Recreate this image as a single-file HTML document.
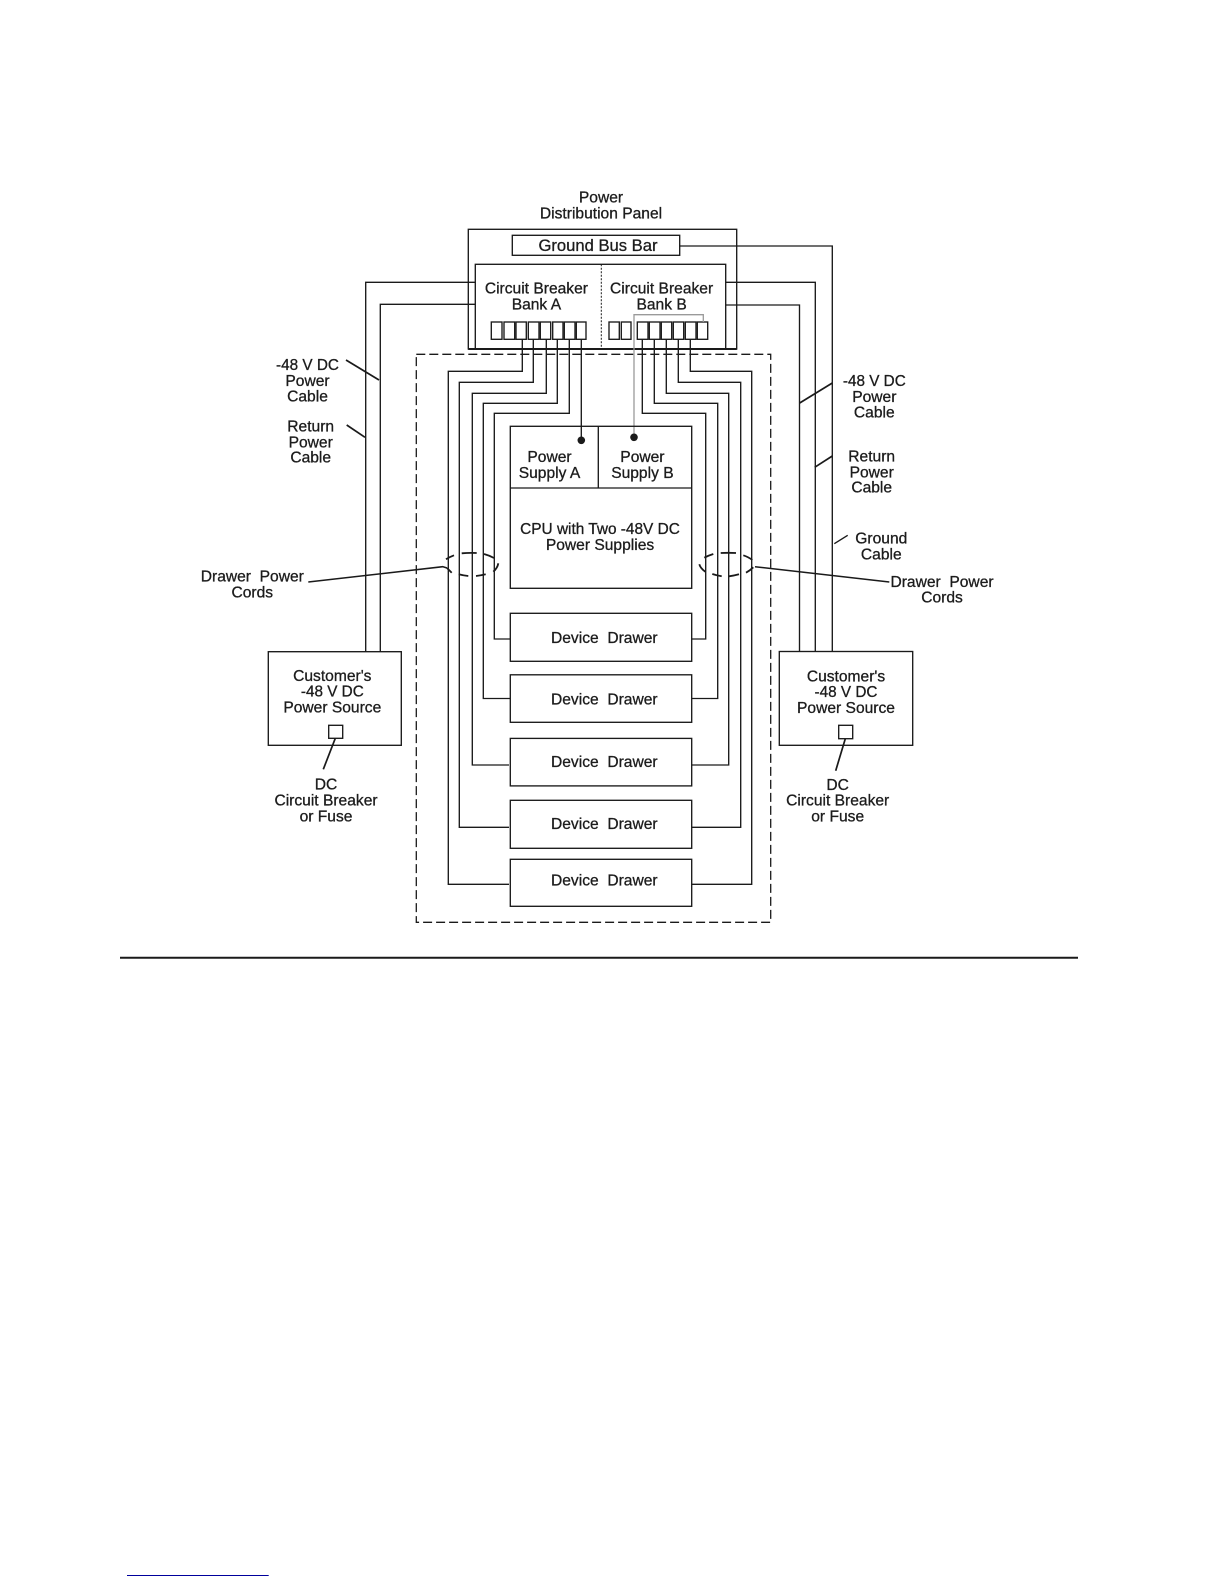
<!DOCTYPE html>
<html lang="en">
<head>
<meta charset="utf-8">
<title>Power Distribution Diagram</title>
<style>
html,body{margin:0;padding:0;background:#fff;width:1224px;height:1584px;overflow:hidden}
svg{display:block}
text{font-family:"Liberation Sans",sans-serif;font-size:15.6px;fill:#1c1c1c;stroke:#1c1c1c;stroke-width:.3;text-anchor:middle;white-space:pre}
.l{fill:none;stroke:#1a1a1a;stroke-width:1.35}
.t{fill:none;stroke:#1a1a1a;stroke-width:1.7}
</style>
</head>
<body>
<svg width="1224" height="1584" viewBox="0 0 1224 1584" xmlns="http://www.w3.org/2000/svg">
<rect width="1224" height="1584" fill="#fff"/>

<!-- dashed enclosure -->
<rect x="416.3" y="354.3" width="354.4" height="568" fill="none" stroke="#1a1a1a" stroke-width="1.3" stroke-dasharray="9 4"/>

<!-- panel -->
<rect class="l" x="468.3" y="229.3" width="268.4" height="119.7"/>
<rect class="l" x="512.3" y="235.3" width="167.4" height="20"/>
<rect class="l" x="475.3" y="264.3" width="250.4" height="84.7"/>
<line x1="468.3" y1="349" x2="736.7" y2="349" stroke="#1a1a1a" stroke-width="1.9"/>
<line x1="601.3" y1="264.3" x2="601.3" y2="349" stroke="#1a1a1a" stroke-width="1" stroke-dasharray="2 1.5"/>

<!-- breakers A -->
<rect class="l" x="491.3" y="322" width="10.7" height="17.3"/>
<rect class="l" x="504" y="322" width="10.7" height="17.3"/>
<rect class="l" x="516" y="322" width="10.3" height="17.3"/>
<rect class="l" x="528.3" y="322" width="10.7" height="17.3"/>
<rect class="l" x="540.3" y="322" width="10.4" height="17.3"/>
<rect class="l" x="552.7" y="322" width="10.3" height="17.3"/>
<rect class="l" x="564.3" y="322" width="10.7" height="17.3"/>
<rect class="l" x="576.3" y="322" width="9.7" height="17.3"/>
<!-- breakers B -->
<rect class="l" x="609" y="322" width="10.3" height="17.3"/>
<rect class="l" x="621.3" y="322" width="9.7" height="17.3"/>
<rect class="l" x="637.3" y="322" width="10.7" height="17.3"/>
<rect class="l" x="649.3" y="322" width="10.7" height="17.3"/>
<rect class="l" x="661.3" y="322" width="10.4" height="17.3"/>
<rect class="l" x="673.3" y="322" width="10.4" height="17.3"/>
<rect class="l" x="685.3" y="322" width="10.7" height="17.3"/>
<rect class="l" x="697.3" y="322" width="10.4" height="17.3"/>

<!-- gray wire -->
<polyline points="703.3,322 703.3,314.7 634,314.7 634,437.3" fill="none" stroke="#9a9a9a" stroke-width="1.3"/>
<circle cx="634" cy="437.3" r="3.8" fill="#1a1a1a"/>
<line class="l" x1="581.3" y1="339.3" x2="581.3" y2="440.3"/>
<circle cx="581.3" cy="440.3" r="3.8" fill="#1a1a1a"/>

<!-- CPU / PSU -->
<rect class="l" x="510.3" y="426.3" width="181.4" height="162"/>
<line class="l" x1="510.3" y1="488" x2="691.7" y2="488"/>
<line class="l" x1="598.3" y1="426.3" x2="598.3" y2="488"/>

<!-- drawers -->
<rect class="l" x="510.3" y="613.3" width="181.4" height="48"/>
<rect class="l" x="510.3" y="674.8" width="181.4" height="47.5"/>
<rect class="l" x="510.3" y="738.4" width="181.4" height="47.5"/>
<rect class="l" x="510.3" y="800.3" width="181.4" height="48"/>
<rect class="l" x="510.3" y="859.3" width="181.4" height="47"/>

<!-- A wires -->
<polyline class="l" points="522.3,339.3 522.3,371.3 448.3,371.3 448.3,884.3 509,884.3"/>
<polyline class="l" points="533.3,339.3 533.3,382.3 459.3,382.3 459.3,827.3 509,827.3"/>
<polyline class="l" points="546.3,339.3 546.3,393.3 472.3,393.3 472.3,765 509,765"/>
<polyline class="l" points="557.3,339.3 557.3,403.3 483.3,403.3 483.3,698.5 510,698.5"/>
<polyline class="l" points="569.3,339.3 569.3,413.3 494.3,413.3 494.3,639 510,639"/>

<!-- B wires -->
<polyline class="l" points="642.3,339.3 642.3,413.3 705.7,413.3 705.7,639 691.7,639"/>
<polyline class="l" points="654.3,339.3 654.3,403.3 717.7,403.3 717.7,698.5 691.7,698.5"/>
<polyline class="l" points="666.3,339.3 666.3,393.3 728.7,393.3 728.7,765 691.7,765"/>
<polyline class="l" points="678.3,339.3 678.3,382.3 740.7,382.3 740.7,827.3 691.7,827.3"/>
<polyline class="l" points="690.3,339.3 690.3,371.3 751.7,371.3 751.7,884.3 691.7,884.3"/>

<!-- customer boxes -->
<rect class="l" x="268.3" y="651.7" width="133" height="93.6"/>
<rect class="l" x="328.7" y="725.3" width="14" height="13"/>
<rect class="l" x="779.3" y="651.5" width="133.4" height="93.8"/>
<rect class="l" x="838.7" y="725.3" width="14" height="13.4"/>
<line class="t" x1="335.3" y1="738.3" x2="323.3" y2="769.3"/>
<line class="t" x1="845.3" y1="738.7" x2="835.7" y2="770.7"/>

<!-- external cables -->
<polyline class="l" points="475.3,282.3 365.7,282.3 365.7,651.7"/>
<polyline class="l" points="475.3,304.3 380.3,304.3 380.3,651.7"/>
<polyline class="l" points="725.7,282.3 815.3,282.3 815.3,651.5"/>
<polyline class="l" points="725.7,305 799.5,305 799.5,651.5"/>
<polyline class="l" points="679.7,246 832.3,246 832.3,651.5"/>

<!-- ticks -->
<line class="t" x1="346" y1="360" x2="379" y2="380"/>
<line class="t" x1="346.7" y1="425" x2="365" y2="437.3"/>
<line class="t" x1="799.7" y1="403" x2="832.3" y2="383"/>
<line class="t" x1="814.7" y1="467.3" x2="832.3" y2="456"/>
<line class="l" x1="834.3" y1="543.7" x2="847.7" y2="535.3" style="stroke-width:1.4"/>

<!-- dashed ellipse segments, left -->
<g fill="none" stroke="#1a1a1a" stroke-width="1.8">
<path d="M446 559.3Q449.5 557 454 555.3"/>
<path d="M461.7 553.3Q469 552.7 476.7 553"/>
<path d="M484 554Q489.5 555.5 494 558"/>
<path d="M498.3 563.3Q497.5 568 493.3 571.7"/>
<path d="M485.7 574.3Q481 575.5 476 576"/>
<path d="M468.3 576Q463 575.5 458.7 574.3"/>
<path d="M451.7 572.7L447 568"/>
<!-- right -->
<path d="M704.3 557.7Q708.5 555.5 713.3 554"/>
<path d="M720.7 553Q728 552.6 736 553"/>
<path d="M743.3 555.3Q748.5 557 752.3 560"/>
<path d="M753.3 567.3Q750 570.5 746 572.7"/>
<path d="M739 574.3Q734 575.7 729 576.3"/>
<path d="M721.7 576.3Q717 575.5 712.3 574"/>
<path d="M705.3 571.7Q700.5 568.5 699.3 564.3"/>
</g>
<polyline class="l" points="308.3,582 442.7,566.7 447,568" style="stroke-width:1.5"/>
<line class="l" x1="755" y1="566.7" x2="889.3" y2="582" style="stroke-width:1.5"/>

<!-- rule and footer -->
<line x1="120" y1="957.7" x2="1078" y2="957.7" stroke="#1a1a1a" stroke-width="2"/>
<line x1="127" y1="1575.5" x2="268.7" y2="1575.5" stroke="#00009c" stroke-width="1.1"/>

<!-- text -->
<text x="601" y="202.5">Power</text>
<text x="601" y="218.6">Distribution Panel</text>
<text x="598" y="251" style="font-size:16.6px">Ground Bus Bar</text>
<text x="536.4" y="293.4">Circuit Breaker</text>
<text x="536.4" y="309.5">Bank A</text>
<text x="661.6" y="293.4">Circuit Breaker</text>
<text x="661.6" y="309.5">Bank B</text>
<text x="549.5" y="462">Power</text>
<text x="549.5" y="478.2">Supply A</text>
<text x="642.4" y="462">Power</text>
<text x="642.4" y="478.2">Supply B</text>
<text x="600" y="533.8" style="font-size:15.4px">CPU with Two -48V DC</text>
<text x="600" y="549.9">Power Supplies</text>
<text x="604.3" y="642.9">Device  Drawer</text>
<text x="604.3" y="704.5">Device  Drawer</text>
<text x="604.3" y="767">Device  Drawer</text>
<text x="604.3" y="829">Device  Drawer</text>
<text x="604.3" y="885.3">Device  Drawer</text>

<text x="307.5" y="370" style="font-size:15.3px">-48 V DC</text>
<text x="307.5" y="386">Power</text>
<text x="307.5" y="401.7">Cable</text>
<text x="310.7" y="431.7">Return</text>
<text x="310.7" y="447.3">Power</text>
<text x="310.7" y="462.7">Cable</text>
<text x="252.3" y="581.7">Drawer  Power</text>
<text x="252.3" y="597.3">Cords</text>

<text x="874.3" y="386" style="font-size:15.3px">-48 V DC</text>
<text x="874.3" y="402">Power</text>
<text x="874.3" y="417.7">Cable</text>
<text x="871.7" y="461.7">Return</text>
<text x="871.7" y="477.3">Power</text>
<text x="871.7" y="492.7">Cable</text>
<text x="881.3" y="543.7">Ground</text>
<text x="881.3" y="559.3">Cable</text>
<text x="942" y="587">Drawer  Power</text>
<text x="942" y="602.7">Cords</text>

<text x="332.3" y="681">Customer's</text>
<text x="332.3" y="696.7" style="font-size:15.3px">-48 V DC</text>
<text x="332.3" y="712.7">Power Source</text>
<text x="326" y="789.3">DC</text>
<text x="326" y="805.7">Circuit Breaker</text>
<text x="326" y="821.7">or Fuse</text>

<text x="846" y="681.3">Customer's</text>
<text x="846" y="697" style="font-size:15.3px">-48 V DC</text>
<text x="846" y="713">Power Source</text>
<text x="837.7" y="790">DC</text>
<text x="837.7" y="805.7">Circuit Breaker</text>
<text x="837.7" y="821.7">or Fuse</text>
</svg>
</body>
</html>
